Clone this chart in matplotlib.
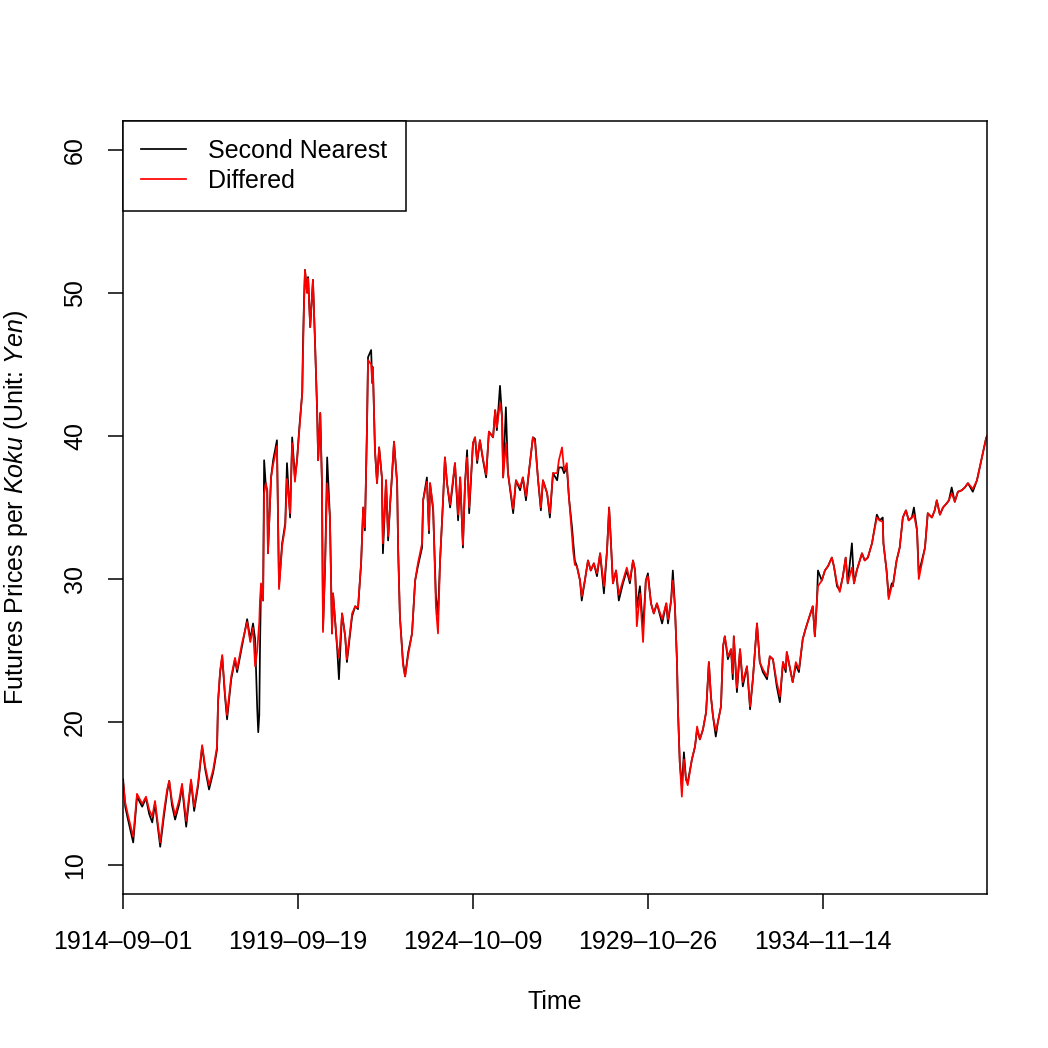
import datetime as dt
import matplotlib
matplotlib.use("Agg")
import matplotlib.pyplot as plt

# time in decimal years, values in yen per koku
years = [
    1914.67, 1914.73, 1914.81, 1914.96, 1915.07, 1915.22, 1915.33, 1915.42, 1915.51, 1915.59,
    1915.74, 1915.85, 1915.94, 1916.00, 1916.08, 1916.17, 1916.29, 1916.37, 1916.49, 1916.63,
    1916.72, 1916.83, 1916.95, 1917.04, 1917.15, 1917.27, 1917.38, 1917.41, 1917.47, 1917.53,
    1917.61, 1917.67, 1917.79, 1917.90, 1917.96, 1918.10, 1918.25, 1918.34, 1918.42, 1918.48,
    1918.54, 1918.57, 1918.60, 1918.62, 1918.65, 1918.71, 1918.74, 1918.79, 1918.83, 1918.85,
    1918.94, 1919.00, 1919.11, 1919.17, 1919.26, 1919.35, 1919.40, 1919.49, 1919.55, 1919.63,
    1919.69, 1919.75, 1919.84, 1919.86, 1919.89, 1919.92, 1919.98, 1920.01, 1920.07, 1920.15,
    1920.21, 1920.27, 1920.30, 1920.36, 1920.41, 1920.44, 1920.50, 1920.56, 1920.64, 1920.70,
    1920.73, 1920.85, 1920.90, 1920.99, 1921.08, 1921.13, 1921.28, 1921.37, 1921.45, 1921.54,
    1921.60, 1921.65, 1921.71, 1921.74, 1921.83, 1921.86, 1921.88, 1921.94, 1922.00, 1922.06,
    1922.14, 1922.17, 1922.26, 1922.32, 1922.38, 1922.43, 1922.49, 1922.58, 1922.61, 1922.66,
    1922.75, 1922.81, 1922.90, 1923.01, 1923.10, 1923.18, 1923.30, 1923.33, 1923.44, 1923.50,
    1923.53, 1923.62, 1923.70, 1923.76, 1923.82, 1923.91, 1923.96, 1924.02, 1924.11, 1924.19,
    1924.25, 1924.34, 1924.40, 1924.48, 1924.54, 1924.60, 1924.66, 1924.77, 1924.83, 1924.89,
    1924.97, 1925.06, 1925.15, 1925.23, 1925.35, 1925.41, 1925.46, 1925.55, 1925.61, 1925.64,
    1925.72, 1925.78, 1925.93, 1926.01, 1926.13, 1926.21, 1926.30, 1926.39, 1926.50, 1926.56,
    1926.65, 1926.73, 1926.79, 1926.91, 1926.99, 1927.08, 1927.20, 1927.25, 1927.34, 1927.40,
    1927.48, 1927.54, 1927.63, 1927.66, 1927.71, 1927.77, 1927.86, 1927.91, 1928.00, 1928.09,
    1928.17, 1928.26, 1928.35, 1928.44, 1928.55, 1928.64, 1928.70, 1928.75, 1928.81, 1928.90,
    1928.98, 1929.10, 1929.21, 1929.30, 1929.39, 1929.45, 1929.50, 1929.59, 1929.68, 1929.76,
    1929.82, 1929.91, 1929.99, 1930.08, 1930.23, 1930.35, 1930.40, 1930.49, 1930.54, 1930.60,
    1930.66, 1930.69, 1930.74, 1930.80, 1930.86, 1930.92, 1930.97, 1931.09, 1931.18, 1931.24,
    1931.32, 1931.41, 1931.50, 1931.58, 1931.64, 1931.70, 1931.78, 1931.84, 1931.93, 1931.99,
    1932.04, 1932.13, 1932.22, 1932.27, 1932.30, 1932.39, 1932.48, 1932.56, 1932.68, 1932.77,
    1932.85, 1932.91, 1932.97, 1933.05, 1933.14, 1933.26, 1933.34, 1933.43, 1933.54, 1933.63,
    1933.72, 1933.80, 1933.83, 1934.00, 1934.09, 1934.18, 1934.29, 1934.37, 1934.46, 1934.58,
    1934.64, 1934.70, 1934.73, 1934.84, 1934.93, 1935.02, 1935.13, 1935.19, 1935.28, 1935.36,
    1935.45, 1935.53, 1935.59, 1935.71, 1935.77, 1935.85, 1936.00, 1936.08, 1936.17, 1936.29,
    1936.34, 1936.43, 1936.51, 1936.60, 1936.62, 1936.71, 1936.77, 1936.86, 1936.89, 1937.00,
    1937.09, 1937.18, 1937.27, 1937.35, 1937.44, 1937.50, 1937.59, 1937.64, 1937.73, 1937.82,
    1937.90, 1938.02, 1938.10, 1938.16, 1938.25, 1938.34, 1938.45, 1938.51, 1938.59, 1938.68,
    1938.77, 1938.88, 1938.97, 1939.06, 1939.20, 1939.32, 1939.40, 1939.49, 1939.58, 1939.61,
]

second_nearest = [
    16.0, 14.1, 13.2, 11.6, 14.8, 14.1, 14.7, 13.6, 13.0, 14.3,
    11.3, 13.5, 15.1, 15.9, 14.2, 13.2, 14.3, 15.5, 12.7, 15.9,
    13.8, 15.5, 18.3, 16.7, 15.3, 16.5, 18.1, 21.4, 23.5, 24.6,
    21.8, 20.2, 23.0, 24.4, 23.5, 25.3, 27.2, 25.8, 26.9, 25.8,
    21.0, 19.3, 20.5, 25.0, 29.5, 28.5, 38.3, 36.5, 36.2, 31.8,
    37.1, 38.3, 39.7, 29.5, 32.5, 33.9, 38.1, 34.3, 39.9, 37.1,
    38.3, 40.4, 43.0, 46.2, 49.3, 51.6, 50.0, 51.1, 47.6, 50.9,
    46.5, 41.8, 38.3, 41.6, 36.7, 26.5, 30.9, 38.5, 34.3, 26.2,
    29.0, 25.1, 23.0, 27.6, 26.0, 24.2, 27.4, 28.1, 27.9, 31.1,
    35.0, 33.4, 40.6, 45.5, 46.0, 43.7, 44.8, 39.0, 36.7, 39.2,
    37.1, 31.8, 36.9, 32.7, 35.3, 37.1, 39.6, 36.7, 32.0, 27.4,
    24.2, 23.2, 24.9, 26.2, 29.9, 30.9, 32.2, 35.5, 37.1, 33.2,
    36.7, 34.8, 28.8, 27.5, 31.3, 35.7, 38.5, 36.7, 35.0, 36.7,
    38.1, 34.1, 37.1, 32.2, 36.7, 39.0, 34.6, 39.5, 39.9, 38.1,
    39.7, 38.3, 37.1, 40.3, 39.9, 41.8, 40.4, 43.5, 41.3, 37.1,
    42.0, 37.4, 34.6, 36.9, 36.2, 37.1, 35.5, 37.6, 39.9, 39.8,
    36.9, 34.8, 36.9, 36.0, 34.3, 37.4, 36.9, 37.8, 37.8, 37.4,
    37.8, 35.7, 33.6, 32.7, 31.3, 30.9, 29.9, 28.5, 29.9, 31.3,
    30.6, 31.1, 30.2, 31.8, 29.0, 32.0, 35.0, 32.7, 29.7, 30.6,
    28.5, 29.7, 30.6, 29.7, 31.3, 30.6, 28.0, 29.5, 26.5, 29.9,
    30.4, 28.3, 27.6, 28.3, 26.9, 28.3, 26.9, 28.5, 30.6, 28.1,
    24.2, 20.7, 17.2, 15.5, 17.9, 16.0, 15.8, 17.4, 18.3, 19.5,
    18.8, 19.5, 20.7, 24.2, 21.8, 20.4, 19.0, 20.0, 21.1, 25.3,
    26.0, 24.4, 25.1, 23.0, 26.0, 22.1, 25.1, 22.5, 23.9, 20.9,
    23.0, 24.9, 26.9, 24.2, 23.5, 23.0, 24.6, 24.4, 22.5, 21.4,
    24.2, 23.5, 24.9, 22.8, 24.0, 23.5, 25.8, 26.5, 27.2, 28.1,
    26.0, 28.5, 30.6, 29.9, 30.6, 30.9, 31.5, 30.9, 29.5, 29.2,
    30.2, 31.5, 29.7, 32.5, 29.7, 30.6, 31.8, 31.3, 31.5, 32.5,
    33.2, 34.5, 34.1, 34.3, 32.5, 30.6, 28.8, 29.7, 29.5, 31.3,
    32.2, 34.3, 34.8, 34.1, 34.3, 35.0, 33.4, 30.4, 31.3, 32.2,
    34.6, 34.3, 34.8, 35.5, 34.5, 35.0, 35.3, 35.5, 36.4, 35.4,
    36.1, 36.2, 36.4, 36.7, 36.1, 36.9, 37.8, 38.8, 39.8, 40.0,
]

differed = [
    15.8, 14.4, 13.5, 12.0, 15.0, 14.3, 14.8, 13.9, 13.4, 14.5,
    11.6, 13.8, 15.3, 15.9, 14.5, 13.5, 14.6, 15.7, 13.1, 16.0,
    14.1, 15.7, 18.4, 16.9, 15.6, 16.7, 18.3, 21.5, 23.6, 24.7,
    22.0, 20.5, 23.2, 24.5, 23.7, 25.5, 27.0, 25.6, 26.6, 23.9,
    25.0, 26.0, 27.0, 28.5, 29.7, 28.5, 36.0, 36.7, 36.2, 31.8,
    37.1, 38.0, 39.3, 29.3, 32.3, 33.7, 37.0, 34.6, 39.5, 36.8,
    38.3, 40.2, 43.0, 45.5, 49.0, 51.6, 50.0, 51.0, 47.6, 50.9,
    46.5, 41.8, 38.3, 41.6, 36.7, 26.3, 30.9, 36.7, 34.3, 26.2,
    29.0, 25.3, 24.5, 27.6, 26.0, 24.4, 27.6, 28.1, 28.0, 31.1,
    35.0, 33.6, 40.6, 45.3, 45.0, 43.7, 44.8, 39.0, 36.7, 39.2,
    37.1, 32.5, 36.9, 33.0, 35.3, 37.1, 39.6, 36.7, 32.0, 27.4,
    24.0, 23.2, 24.7, 26.2, 29.9, 31.1, 32.5, 35.5, 36.8, 33.4,
    36.7, 35.0, 28.0, 26.2, 31.3, 35.7, 38.5, 36.7, 35.2, 36.9,
    38.1, 34.5, 37.1, 32.4, 36.7, 38.5, 35.0, 39.5, 39.9, 38.3,
    39.7, 38.4, 37.3, 40.3, 39.9, 41.8, 40.6, 42.3, 41.3, 37.1,
    39.5, 37.4, 34.9, 36.9, 36.4, 37.1, 35.8, 37.6, 39.9, 39.6,
    36.9, 35.0, 36.9, 36.0, 34.6, 37.4, 37.4, 38.3, 39.2, 37.6,
    38.1, 35.7, 33.0, 32.0, 31.0, 30.9, 29.9, 28.8, 29.9, 31.3,
    30.6, 31.1, 30.4, 31.8, 29.5, 32.0, 35.0, 32.7, 29.7, 30.6,
    28.9, 29.9, 30.8, 29.9, 31.3, 30.6, 26.7, 29.0, 25.6, 29.9,
    30.2, 28.3, 27.6, 28.3, 27.2, 28.3, 27.2, 28.5, 29.9, 28.1,
    24.2, 20.7, 17.2, 14.8, 17.4, 16.0, 15.6, 17.4, 18.3, 19.7,
    18.8, 19.5, 20.7, 24.2, 21.8, 20.4, 19.4, 20.0, 21.1, 25.3,
    26.0, 24.6, 25.1, 23.4, 26.0, 22.4, 25.1, 22.8, 23.9, 21.1,
    23.0, 24.9, 26.9, 24.2, 23.7, 23.2, 24.6, 24.4, 22.8, 21.8,
    24.2, 23.7, 24.9, 22.8, 24.2, 23.7, 25.8, 26.5, 27.2, 28.1,
    26.0, 28.5, 29.5, 29.9, 30.6, 30.9, 31.5, 30.9, 29.7, 29.1,
    30.2, 31.5, 29.7, 30.8, 29.7, 30.6, 31.8, 31.3, 31.5, 32.5,
    33.2, 34.3, 34.1, 34.0, 32.5, 30.6, 28.6, 29.5, 29.5, 31.3,
    32.2, 34.3, 34.8, 34.1, 34.3, 34.5, 33.4, 30.0, 31.1, 32.2,
    34.6, 34.3, 34.8, 35.5, 34.5, 35.0, 35.3, 35.5, 36.0, 35.4,
    36.1, 36.2, 36.4, 36.7, 36.3, 36.9, 37.8, 38.8, 39.8, 40.0,
]

tick_dates = ["1914-09-01", "1919-09-19", "1924-10-09", "1929-10-26", "1934-11-14"]
y_ticks = [10, 20, 30, 40, 50, 60]


def decimal_year(s):
    d = dt.date.fromisoformat(s)
    start = dt.date(d.year, 1, 1)
    n_days = (dt.date(d.year + 1, 1, 1) - start).days
    return d.year + (d - start).days / n_days


plt.rcParams["font.family"] = ["Liberation Sans", "DejaVu Sans"]
plt.rcParams["mathtext.fontset"] = "custom"
plt.rcParams["mathtext.rm"] = "Liberation Sans"
plt.rcParams["mathtext.it"] = "Liberation Sans:italic"

fig = plt.figure(figsize=(10.48, 10.48), dpi=100)
ax = fig.add_axes([123 / 1048, 154 / 1048, 864 / 1048, 773 / 1048])

ax.plot(years, second_nearest, color="black", lw=1.25, label="Second Nearest")
ax.plot(years, differed, color="#ff0000", lw=1.25, label="Differed")

x_ticks = [decimal_year(s) for s in tick_dates]
ax.set_xlim(x_ticks[0], years[-1])
ax.set_ylim(8, 62)
ax.set_xticks(x_ticks)
ax.set_xticklabels([s.replace("-", "\u2013") for s in tick_dates])
ax.set_yticks(y_ticks)
ax.set_yticklabels([str(v) for v in y_ticks], rotation=90, va="center")

ax.tick_params(direction="out", length=10.8, width=1.1, labelsize=18, colors="black")
ax.tick_params(axis="x", pad=15)
ax.tick_params(axis="y", pad=15)
for sp in ax.spines.values():
    sp.set_linewidth(1.1)

ax.set_xlabel("Time", fontsize=18)
ax.xaxis.set_label_coords(0.5, -0.124)
ax.set_ylabel(r"Futures Prices per $\mathit{Koku}$ (Unit: $\mathit{Yen}$)", fontsize=18)
ax.yaxis.set_label_coords(-0.108, 0.5)

leg = ax.legend(loc="upper left", borderaxespad=0, fontsize=18, fancybox=False,
                edgecolor="black", framealpha=1, handlelength=1.8, handletextpad=0.9,
                borderpad=0.72, labelspacing=0.22)
leg.get_frame().set_linewidth(1.1)

fig.savefig("out.png", dpi=100)
